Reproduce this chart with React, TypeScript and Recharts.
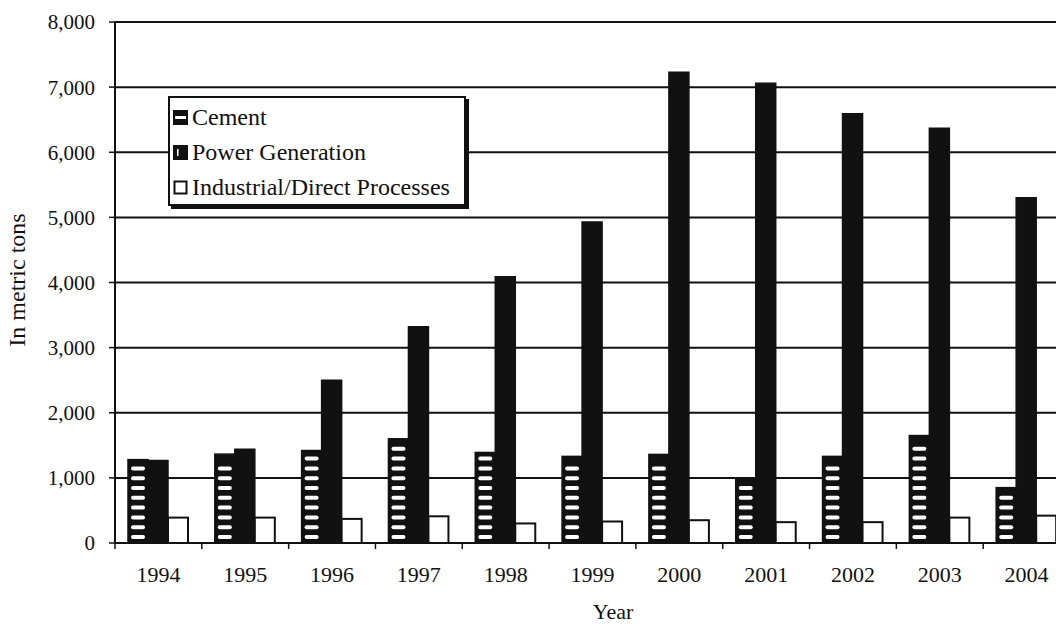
import React from 'react';
import { BarChart, Bar, XAxis, YAxis, CartesianGrid } from 'recharts';

const years = ['1994', '1995', '1996', '1997', '1998', '1999', '2000', '2001', '2002', '2003', '2004'];
const cement = [1280, 1365, 1420, 1600, 1390, 1330, 1360, 975, 1330, 1650, 850];
const power = [1265, 1440, 2500, 3320, 4090, 4930, 7230, 7060, 6590, 6370, 5300];
const industrial = [390, 390, 370, 410, 300, 330, 350, 320, 320, 390, 420];
const yTicks = [0, 1000, 2000, 3000, 4000, 5000, 6000, 7000, 8000];

const FONT = '"Liberation Serif", "Times New Roman", serif';
const INK = '#111';

const data = years.map((year, i) => ({
  year,
  cement: cement[i],
  power: power[i],
  industrial: industrial[i],
}));

// black bar with white rounded rungs, like the scanned hatch
// eslint-disable-next-line @typescript-eslint/no-explicit-any
function CementShape({ x, y, width, height }: any) {
  if (!height || height <= 0) return null;
  const rungs = [];
  const bottom = y + height;
  for (let cy = bottom - 6; cy > y + 6; cy -= 9.8) {
    rungs.push(
      <rect key={cy} x={x + 3} y={cy - 2} width={width - 6} height={4} rx={2} fill="#fff" />
    );
  }
  return (
    <g>
      <rect x={x} y={y} width={width} height={height} fill={INK} stroke={INK} strokeWidth={1.5} />
      {rungs}
    </g>
  );
}

// eslint-disable-next-line @typescript-eslint/no-explicit-any
function OutlineShape({ x, y, width, height }: any) {
  if (!height || height <= 0) return null;
  return <rect x={x} y={y} width={width} height={height} fill="#fff" stroke={INK} strokeWidth={2} />;
}

// eslint-disable-next-line @typescript-eslint/no-explicit-any
function YearTick({ x, y, payload }: any) {
  const half = payload && payload.offset ? payload.offset : 43.4;
  return (
    <g>
      <line x1={x - half} x2={x - half} y1={y} y2={y + 6} stroke={INK} strokeWidth={1.5} />
      <text x={x} y={y + 39} textAnchor="middle" fill={INK} fontFamily={FONT} fontSize={22}>
        {payload.value}
      </text>
    </g>
  );
}

function LegendIcon({ kind }: { kind: string }) {
  if (kind === 'cement') {
    return (
      <svg width={15} height={15} style={{ display: 'block' }}>
        <rect x={1} y={1} width={13} height={13} fill="#fff" stroke={INK} strokeWidth={2} />
        <rect x={1} y={1} width={13} height={5} fill={INK} />
        <rect x={1} y={9} width={13} height={5} fill={INK} />
        <rect x={4} y={6.5} width={7} height={2} fill="#fff" />
      </svg>
    );
  }
  if (kind === 'power') {
    return (
      <svg width={15} height={15} style={{ display: 'block' }}>
        <rect x={1} y={1} width={13} height={13} fill={INK} stroke={INK} strokeWidth={2} />
        <rect x={4} y={4} width={1.5} height={7} fill="#fff" />
      </svg>
    );
  }
  return (
    <svg width={15} height={15} style={{ display: 'block' }}>
      <rect x={1.5} y={1.5} width={12} height={12} fill="#fff" stroke={INK} strokeWidth={2} />
    </svg>
  );
}

const legendItems = [
  { key: 'cement', name: 'Cement' },
  { key: 'power', name: 'Power Generation' },
  { key: 'industrial', name: 'Industrial/Direct Processes' },
];

function LegendBox() {
  return (
    <div
      style={{
        position: 'absolute',
        left: 168,
        top: 96,
        width: 294,
        height: 104,
        border: `2px solid ${INK}`,
        boxShadow: `3px 3px 0 ${INK}`,
        background: '#fff',
        boxSizing: 'content-box',
        fontFamily: FONT,
        fontSize: 24,
        color: INK,
        paddingTop: 2,
      }}
    >
      {legendItems.map((item) => (
        <div key={item.key} style={{ display: 'flex', alignItems: 'center', height: 35, paddingLeft: 3 }}>
          <LegendIcon kind={item.key} />
          <span style={{ marginLeft: 4, whiteSpace: 'nowrap' }}>{item.name}</span>
        </div>
      ))}
    </div>
  );
}

export default function App() {
  return (
    <div
      style={{
        position: 'absolute',
        left: 0,
        top: 0,
        width: 1056,
        height: 625,
        overflow: 'hidden',
        background: '#fff',
      }}
    >
      <BarChart
        width={1090}
        height={625}
        data={data}
        margin={{ top: 22, right: 20, left: 0, bottom: 0 }}
        barGap={0}
        barSize={20}
      >
        <CartesianGrid vertical={false} stroke={INK} strokeWidth={2} />
        <XAxis
          dataKey="year"
          height={82}
          axisLine={{ stroke: INK, strokeWidth: 2 }}
          tickLine={false}
          tickSize={0}
          tickMargin={0}
          interval={0}
          tick={<YearTick />}
          label={{
            content: () => (
              <text x={613} y={619} textAnchor="middle" fill={INK} fontFamily={FONT} fontSize={22}>
                Year
              </text>
            ),
          }}
        />
        <YAxis
          width={115}
          domain={[0, 8000]}
          ticks={yTicks}
          interval={0}
          axisLine={{ stroke: INK, strokeWidth: 2 }}
          tickLine={{ stroke: INK, strokeWidth: 1.5 }}
          tickSize={6}
          tickMargin={14}
          tick={{ fill: INK, fontFamily: FONT, fontSize: 21 }}
          tickFormatter={(v: number) => v.toLocaleString('en-US')}
          label={{
            content: () => (
              <text
                x={0}
                y={0}
                transform="translate(25, 280) rotate(-90)"
                textAnchor="middle"
                fill={INK}
                fontFamily={FONT}
                fontSize={24}
              >
                In metric tons
              </text>
            ),
          }}
        />
        <Bar dataKey="cement" name="Cement" shape={<CementShape />} isAnimationActive={false} />
        <Bar dataKey="power" name="Power Generation" fill={INK} stroke={INK} strokeWidth={1.5} isAnimationActive={false} />
        <Bar
          dataKey="industrial"
          name="Industrial/Direct Processes"
          shape={<OutlineShape />}
          isAnimationActive={false}
        />
      </BarChart>
      <LegendBox />
    </div>
  );
}
